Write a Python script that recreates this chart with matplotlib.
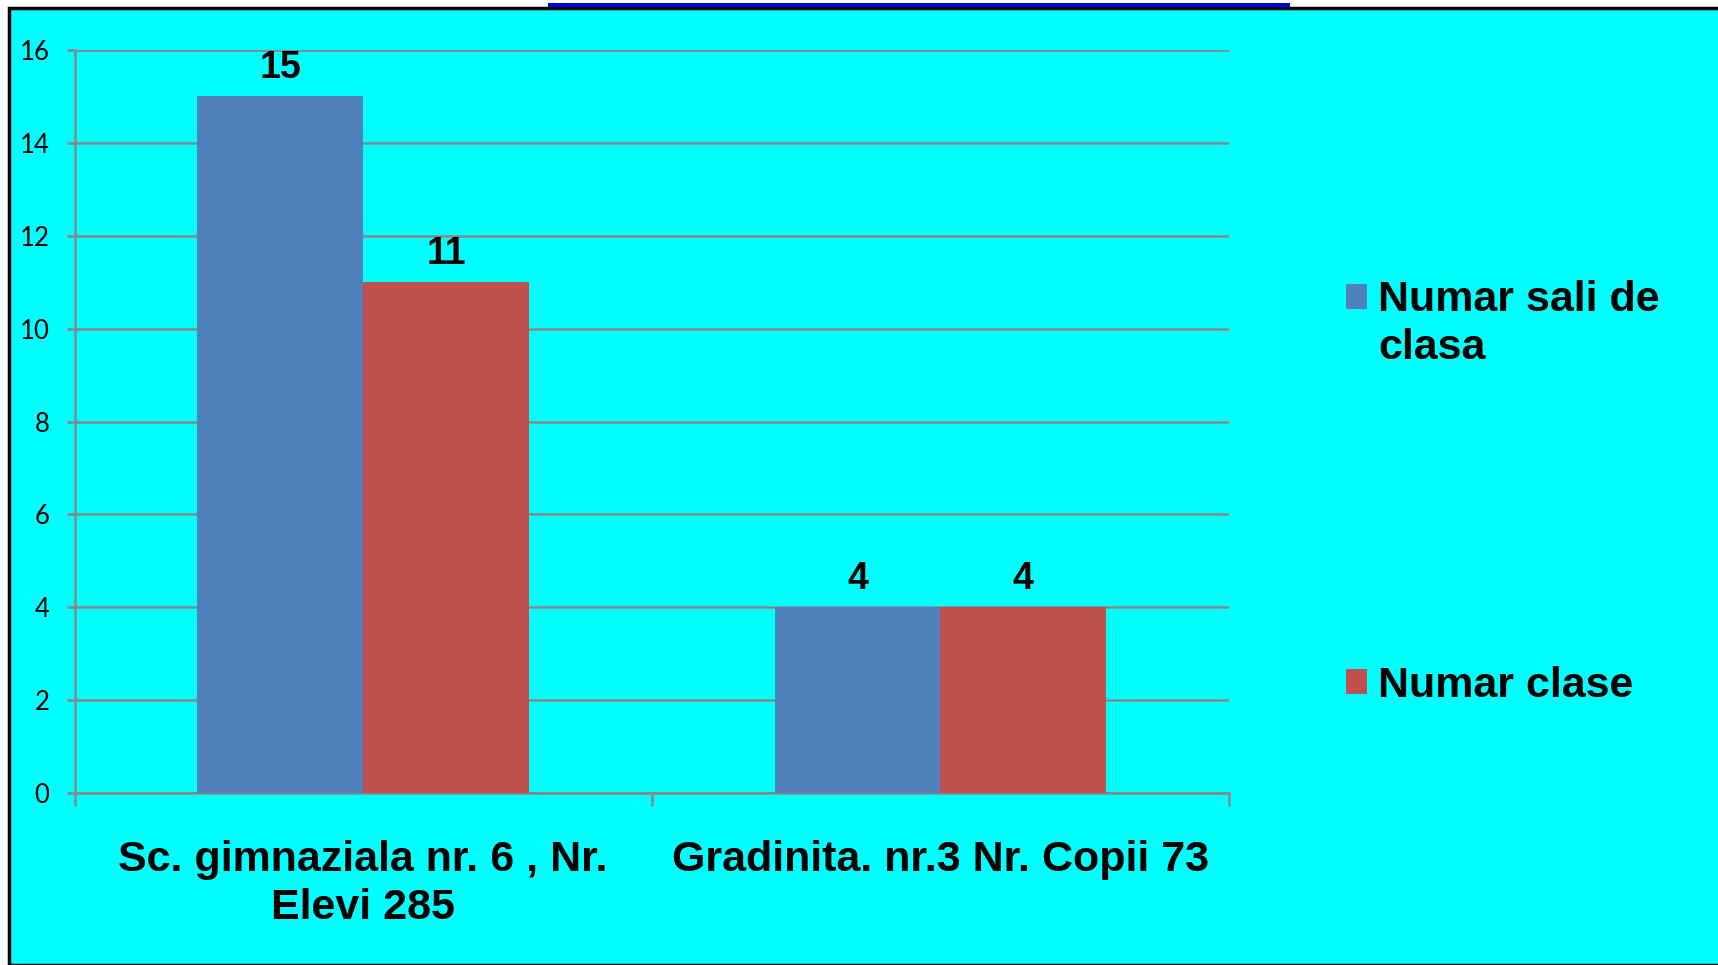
import matplotlib.pyplot as plt
from matplotlib.patches import Rectangle
import numpy as np

# data
categories = ['Sc. gimnaziala nr. 6 , Nr.\nElevi 285', 'Gradinita. nr.3 Nr. Copii 73']
sali = [15, 4]
clase = [11, 4]
series_names = ['Numar sali de\nclasa', 'Numar clase']
yticks = [0, 2, 4, 6, 8, 10, 12, 14, 16]

W, H = 1718, 965
fig = plt.figure(figsize=(W / 100, H / 100), dpi=100)
fig.patch.set_facecolor('white')

# cyan slide background with black edge on top/left
fig.patches.append(Rectangle((8.5 / W, 0), 1, 1 - 8 / H, transform=fig.transFigure,
                             facecolor='#00FFFF', edgecolor='black', linewidth=2.5, zorder=-2))
# piece of the title underline at the top
fig.patches.append(Rectangle((548 / W, 1 - 6.5 / H), (1290 - 548) / W, 3.5 / H,
                             transform=fig.transFigure, facecolor='#0000E6',
                             edgecolor='none', zorder=-1))

ax = fig.add_axes([74.5 / W, 1 - 793 / H, (1229 - 74.5) / W, (793 - 50) / H])
ax.set_facecolor('none')

x = np.arange(len(categories))
w = 0.287
b1 = ax.bar(x - w / 2, sali, w, color='#4F81BD', label=series_names[0], zorder=3)
b2 = ax.bar(x + w / 2, clase, w, color='#C0504D', label=series_names[1], zorder=3)

for bars in (b1, b2):
    ax.bar_label(bars, padding=7.5, fontsize=27, fontweight='bold',
                 family=['Liberation Sans Narrow', 'Liberation Sans'])

ax.set_xlim(-0.5, 1.5)
ax.set_ylim(0, 16)
ax.set_yticks(yticks)
ax.yaxis.grid(True, color='#868686', linewidth=1.8, zorder=0)
ax.set_axisbelow(True)

for s in ['top', 'right']:
    ax.spines[s].set_visible(False)
for s in ['left', 'bottom']:
    ax.spines[s].set_color('#868686')
    ax.spines[s].set_linewidth(1.8)

ax.tick_params(axis='y', length=6, width=1.8, color='#868686', pad=12,
               labelsize=18.5)
for t in ax.get_yticklabels():
    t.set_family(['Lato', 'DejaVu Sans'])

ax.set_xticks(x)
ax.set_xticklabels(categories, fontsize=31, fontweight='bold',
                   family=['Liberation Sans', 'DejaVu Sans'], linespacing=1.24)
ax.tick_params(axis='x', which='major', length=0, pad=34)
ax.set_xticks([-0.5, 0.5, 1.5], minor=True)
ax.tick_params(axis='x', which='minor', length=9, width=1.8, color='#868686')

# legend, one entry per box to keep the wide spacing
lp = dict(size=31, weight='bold', family=['Liberation Sans', 'DejaVu Sans'])
leg1 = fig.legend(handles=[b1], labels=[series_names[0]], loc='upper left',
                  bbox_to_anchor=(1307 / W, 1 - 241 / H), frameon=False, prop=lp,
                  handlelength=0.5, handleheight=0.5, handletextpad=0.25)
leg2 = fig.legend(handles=[b2], labels=[series_names[1]], loc='upper left',
                  bbox_to_anchor=(1307 / W, 1 - 627 / H), frameon=False, prop=lp,
                  handlelength=0.5, handleheight=0.5, handletextpad=0.25)
for lg in (leg1, leg2):
    for t in lg.get_texts():
        t.set_linespacing(1.28)
# put the first square next to the first text line
h = leg1.legend_handles[0]
h.set_y(h.get_y() + 20)

fig.savefig('out.png', dpi=100, facecolor=fig.get_facecolor())
